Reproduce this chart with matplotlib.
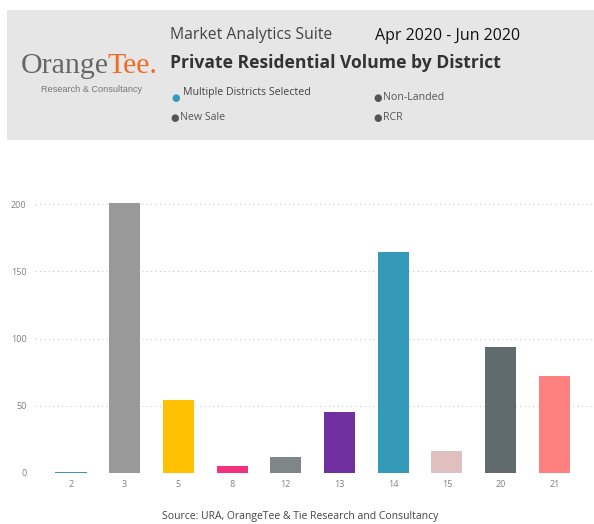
import matplotlib
matplotlib.use("Agg")
import matplotlib.pyplot as plt
from matplotlib.patches import Rectangle

districts = ["2", "3", "5", "8", "12", "13", "14", "15", "20", "21"]
volumes = [1, 201, 54, 5, 12, 45, 164, 16, 94, 72]
colors = ["#3599B8", "#999999", "#FFC000", "#F2317F", "#7F8786", "#7030A0",
          "#3599B8", "#DFBFBF", "#5F6B6D", "#FE8180"]
yticks = [0, 50, 100, 150, 200]

plt.rcParams['font.family'] = ['Open Sans', 'DejaVu Sans']

W, H = 594, 524
fig = plt.figure(figsize=(W / 100, H / 100), dpi=100)
fig.patch.set_facecolor("white")

def fx(px):
    return px / W

def fy(py):
    return 1 - py / H

# header box
fig.patches.append(Rectangle((fx(7), fy(140)), fx(594) - fx(7), fy(10) - fy(140),
                             transform=fig.transFigure, facecolor="#e6e6e6",
                             edgecolor="none", zorder=0))

fig.text(fx(170), fy(35), "Market Analytics Suite", fontsize=11.3, color="#444444",
         va="center", ha="left")
fig.text(fx(375), fy(36), "Apr 2020 - Jun 2020", fontsize=11.5, color="#111111",
         va="center", ha="left")
fig.text(fx(170), fy(63), "Private Residential Volume by District", fontsize=12.6,
         fontweight="bold", color="#333333", va="center", ha="left")

# logo
t1 = fig.text(fx(21), fy(66), "Orange", fontsize=21.5, color="#666666",
              family=["Liberation Serif", "DejaVu Serif"], va="center", ha="left")
fig.canvas.draw()
bb = t1.get_window_extent()
fig.text(bb.x1 / W - 0.003, fy(66), "Tee.", fontsize=21.5, color="#F26A21",
         family=["Liberation Serif", "DejaVu Serif"], va="center", ha="left")
fig.text(fx(92), fy(90), "Research & Consultancy", fontsize=6.6, color="#777777",
         family=["Liberation Sans", "DejaVu Sans"], va="center", ha="center")

# legend-like filters
fig.text(fx(176), fy(98.5), "●", fontsize=7, color="#3599B8", va="center", ha="center",
         family=["DejaVu Sans"])
fig.text(fx(183), fy(93), "Multiple Districts Selected", fontsize=7.7, color="#444444",
         va="center", ha="left")
fig.text(fx(378), fy(98), "●", fontsize=7, color="#555555", va="center", ha="center",
         family=["DejaVu Sans"])
fig.text(fx(383), fy(98), "Non-Landed", fontsize=7.7, color="#555555", va="center", ha="left")
fig.text(fx(175), fy(118), "●", fontsize=7, color="#555555", va="center", ha="center",
         family=["DejaVu Sans"])
fig.text(fx(180), fy(118), "New Sale", fontsize=7.7, color="#555555", va="center", ha="left")
fig.text(fx(378), fy(118), "●", fontsize=7, color="#555555", va="center", ha="center",
         family=["DejaVu Sans"])
fig.text(fx(383), fy(118), "RCR", fontsize=7.7, color="#555555", va="center", ha="left")

# chart
ymax = 210
px_per_unit = (473 - 204) / 200
top_px = 473 - ymax * px_per_unit
ax = fig.add_axes([fx(35), fy(473), 1 - fx(35), fy(top_px) - fy(473)])
x = list(range(len(districts)))
ax.bar(x, volumes, width=0.58, color=colors, linewidth=0, zorder=3)
ax.set_xlim(-0.67, 9.74)
ax.set_ylim(0, ymax)
ax.set_yticks(yticks)
ax.set_yticklabels([str(v) for v in yticks])
ax.set_xticks(x)
ax.set_xticklabels(districts)
ax.tick_params(axis="both", length=0, labelsize=6.5, labelcolor="#808080")
ax.tick_params(axis="y", pad=6)
ax.tick_params(axis="x", pad=5)
ax.grid(axis="y", color="#c8c8c8", linestyle=(0, (1, 3)), linewidth=0.8, zorder=0)
for s in ax.spines.values():
    s.set_visible(False)

fig.text(fx(300), fy(516), "Source: URA, OrangeTee & Tie Research and Consultancy",
         fontsize=7.5, color="#444444", va="center", ha="center")

fig.savefig("out.png", dpi=100, facecolor="white")
